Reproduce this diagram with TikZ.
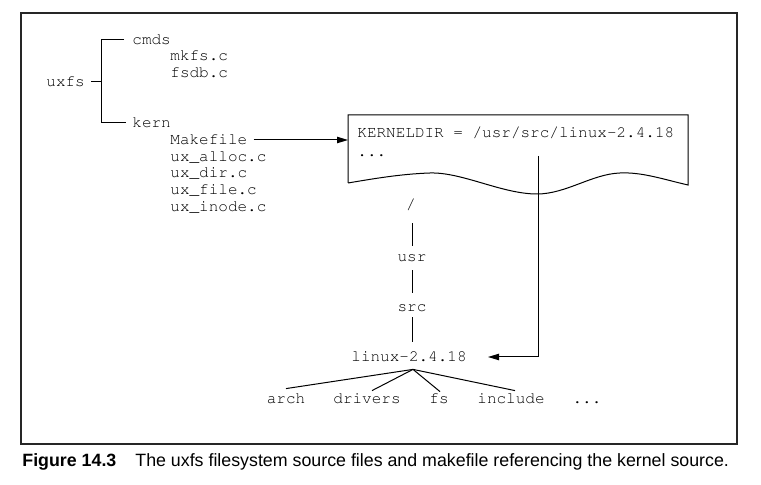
\documentclass[tikz,border=0pt]{standalone}
\usepackage[T1]{fontenc}
\usepackage{fontspec}
\setmainfont{Liberation Sans}
\newcommand{\courf}{\fontencoding{T1}\fontfamily{pcr}\fontseries{m}\fontshape{n}\fontsize{8}{9.6}\selectfont}
\usetikzlibrary{arrows.meta}
\begin{document}
\begin{tikzpicture}[x=0.5pt,y=-0.5pt,
  txt/.style={inner sep=0pt,text height=5pt,text depth=0pt,font=\courf},
  ln/.style={line width=0.5pt},
  arr/.style={ln,-{Triangle[length=5.5pt,width=3.2pt]}}]
\useasboundingbox (0,0) rectangle (761,485);
\draw[line width=0.6pt, black!85] (21,13) rectangle (737,444);
% left tree
\node[txt,anchor=west] (uxfs) at (46,82) {uxfs};
\node[txt,anchor=west] (cmds) at (132,40) {cmds};
\node[txt,anchor=west] (mkfs) at (170,56) {mkfs.c};
\node[txt,anchor=west] (fsdb) at (170,73) {fsdb.c};
\node[txt,anchor=west] (kern) at (132,123) {kern};
\node[txt,anchor=west] (make) at (170,140) {Makefile};
\node[txt,anchor=west] (alloc) at (170,157) {ux\_alloc.c};
\node[txt,anchor=west] (dir) at (170,173) {ux\_dir.c};
\node[txt,anchor=west] (file) at (170,190) {ux\_file.c};
\node[txt,anchor=west] (inode) at (170,207) {ux\_inode.c};
\coordinate (jn) at (101,82);
\draw[ln] ([xshift=3pt]uxfs.east) -- (jn);
\draw[ln] ([xshift=-4pt]cmds.west) -- (jn |- cmds.west) -- (jn |- kern.west) -- ([xshift=-3pt]kern.west);
% makefile box
\draw[ln] (348,183) -- (348,115) -- (688,115) -- (688,185)
  .. controls (662,179) and (642,172) .. (620,173)
  .. controls (592,174) and (566,194) .. (537,194)
  .. controls (502,194) and (462,172) .. (430,173)
  .. controls (400,174) and (372,179) .. (348,183);
\node[txt,anchor=west] (kd) at (357,133) {KERNELDIR = /usr/src/linux-2.4.18};
\node[txt,anchor=west] (kdots) at (357,152) {...};
\coordinate (boxin) at (348,141);
\draw[arr] ([xshift=3pt]make.east) -- (make.east -| boxin);
% path chain
\node[txt] (slash) at (411,205) {/};
\node[txt] (usr) at (412,257) {usr};
\node[txt] (src) at (412,307) {src};
\node[txt] (linux) at (409,357) {linux-2.4.18};
\draw[ln] ([yshift=-6.5pt]usr.north |- slash.south) -- ([yshift=3pt]usr.north);
\draw[ln] ([yshift=-4pt]usr.south) -- ([yshift=4.5pt]src.north);
\draw[ln] ([yshift=-2.5pt]src.south) -- ([yshift=5pt]src.south |- linux.north);
\coordinate (kstart) at (538,156);
\draw[arr] (kstart) |- ([xshift=10.5pt]linux.east);
% subdirectories
\node[txt] (arch) at (286,399) {arch};
\node[txt] (drivers) at (367,399) {drivers};
\node[txt] (fs) at (439,399) {fs};
\node[txt] (include) at (511,399) {include};
\node[txt] (more) at (587,399) {...};
\coordinate (apex) at ([xshift=2pt,yshift=-3.5pt]linux.south);
\draw[ln] (apex) -- ([yshift=2.5pt]arch.north);
\draw[ln] (apex) -- ([xshift=2.5pt,yshift=1.5pt]drivers.north);
\draw[ln] (apex) -- ([xshift=0.5pt,yshift=1pt]fs.north);
\draw[ln] (apex) -- ([xshift=2pt,yshift=1.5pt]include.north);
% caption
\node[anchor=base west,inner sep=0pt] (cap) at (22,467) {\fontsize{8.9}{10}\selectfont\textbf{Figure 14.3}\hspace{9.5pt}The uxfs filesystem source files and makefile referencing the kernel source.};
\end{tikzpicture}
\end{document}
